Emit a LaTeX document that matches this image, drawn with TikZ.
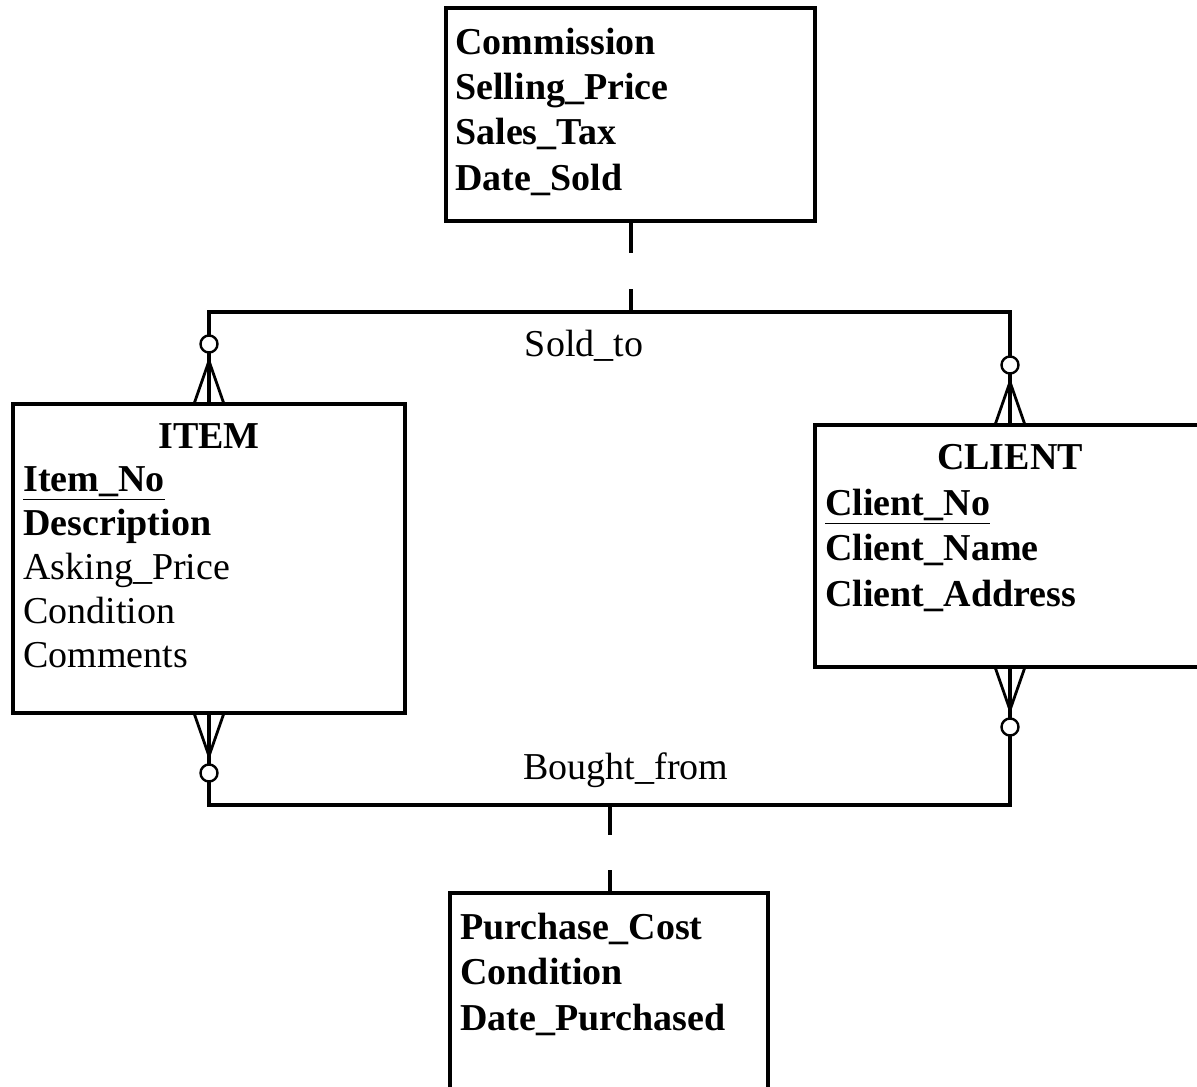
\documentclass[tikz,border=0pt]{standalone}
\usepackage{fontspec}
\setmainfont{Liberation Serif}
\begin{document}
\begin{tikzpicture}[x=0.5pt,y=-0.5pt,
  entity/.style={draw, line width=2pt, anchor=north west, inner sep=0pt, outer sep=0pt},
  attrs/.style={anchor=base west, align=left, inner sep=0pt, font=\fontsize{19}{22.6}\selectfont},
  title/.style={anchor=base, inner sep=0pt, font=\fontsize{19}{22.6}\selectfont\bfseries},
  rolename/.style={inner sep=0pt, font=\fontsize{19}{22.6}\selectfont},
  rel/.style={line width=2pt},
  foot/.style={line width=1.4pt},
  optional/.style={circle, draw, fill=white, line width=1.2pt, minimum size=8.5pt, inner sep=0pt}]
\useasboundingbox (0,0) rectangle (1197,1086);
\clip (0,0) rectangle (1197,1086);
% entity boxes
\node[entity, minimum width=184.5pt, minimum height=106.5pt] (sale) at (446,8) {};
\node[entity, minimum width=196pt, minimum height=154.5pt] (item) at (13,404) {};
\node[entity, minimum width=195pt, minimum height=121pt] (client) at (815,425) {};
\node[entity, minimum width=159pt, minimum height=110pt] (purchase) at (450,893) {};
% texts (anchored at the last line)
\node[attrs] (saleattr) at (455,190) {\textbf{Commission}\\ \textbf{Selling\_Price}\\ \textbf{Sales\_Tax}\\ \textbf{Date\_Sold}};
\node[title] (itemname) at (209,448) {ITEM};
\node[attrs, font=\fontsize{19}{22}\selectfont] (itemattr) at (23,667) {\textbf{\underline{Item\_No}}\\ \textbf{Description}\\ Asking\_Price\\ Condition\\ Comments};
\node[title] (clientname) at (1010,469) {CLIENT};
\node[attrs] (clientattr) at (825,606) {\textbf{\underline{Client\_No}}\\ \textbf{Client\_Name}\\ \textbf{Client\_Address}};
\node[attrs] (purchattr) at (460,1030) {\textbf{Purchase\_Cost}\\ \textbf{Condition}\\ \textbf{Date\_Purchased}};
% relationships
\coordinate (sold) at (630,312);
\coordinate (bought) at (610,805);
\draw[rel] (item.north) -- (item.north |- sold) -- (client.north |- sold) -- (client.north);
\draw[rel] (item.south) -- (item.south |- bought) -- (client.south |- bought) -- (client.south);
\draw[rel, dash pattern=on 16pt off 18pt] (sale.south) -- (sale.south |- sold);
\draw[rel, dash pattern=on 15pt off 17.5pt] (bought) -- (bought |- purchase.north);
\node[rolename] (soldto) at (584,346) {Sold\_to};
\node[rolename] (boughtfrom) at (626,770) {Bought\_from};
% crow's feet
\foreach \e/\a/\s in {item/north/1, client/north/1, item/south/-1, client/south/-1}{
  \draw[foot] ([xshift=-7.5pt]\e.\a) -- ([yshift=\s*21.5pt]\e.\a) -- ([xshift=7.5pt]\e.\a);
  \node[optional] (\e-\a-opt) at ([yshift=\s*30pt]\e.\a) {};
}
\end{tikzpicture}
\end{document}
